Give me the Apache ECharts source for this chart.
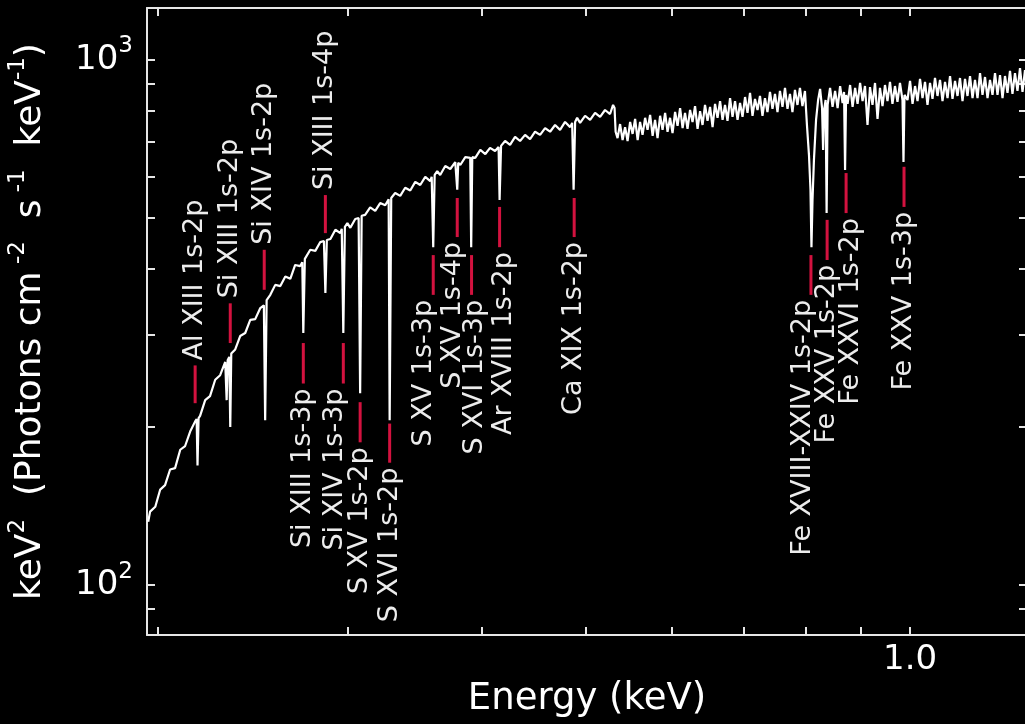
<!DOCTYPE html>
<html>
<head>
<meta charset="utf-8">
<title>Absorption spectrum</title>
<script src="https://cdn.jsdelivr.net/npm/echarts@6/dist/echarts.min.js"></script>
<style>
html, body { margin: 0; padding: 0; background: #000; }
#main { width: 1025px; height: 724px; }
</style>
</head>
<body>
<div id="main"></div>
<script>
// spectrum (energy in axis units, flux in keV2 photons ...)
var energy = [
  0.1958, 0.1966, 0.1988, 0.2009, 0.2030, 0.2052, 0.2074, 0.2097, 0.2119, 0.2142,
  0.2165, 0.2172, 0.2176, 0.2181, 0.2188, 0.2212, 0.2235, 0.2260, 0.2284, 0.2309,
  0.2316, 0.2321, 0.2329, 0.2334, 0.2339, 0.2359, 0.2384, 0.2410, 0.2436, 0.2462,
  0.2489, 0.2508, 0.2515, 0.2523, 0.2543, 0.2570, 0.2598, 0.2626, 0.2654, 0.2682,
  0.2711, 0.2723, 0.2729, 0.2738, 0.2747, 0.2770, 0.2800, 0.2830, 0.2852, 0.2861,
  0.2870, 0.2892, 0.2923, 0.2954, 0.2963, 0.2973, 0.2983, 0.2999, 0.3018, 0.3050,
  0.3072, 0.3082, 0.3092, 0.3115, 0.3149, 0.3183, 0.3217, 0.3252, 0.3276, 0.3283,
  0.3294, 0.3322, 0.3358, 0.3394, 0.3431, 0.3468, 0.3505, 0.3543, 0.3581, 0.3592,
  0.3604, 0.3615, 0.3635, 0.3658, 0.3698, 0.3738, 0.3778, 0.3786, 0.3794, 0.3802,
  0.3819, 0.3860, 0.3901, 0.3909, 0.3918, 0.3943, 0.3986, 0.4029, 0.4070, 0.4114,
  0.4145, 0.4154, 0.4167, 0.4203, 0.4248, 0.4294, 0.4340, 0.4387, 0.4434, 0.4482,
  0.4530, 0.4579, 0.4628, 0.4678, 0.4728, 0.4779, 0.4831, 0.4852, 0.4867, 0.4883,
  0.4904, 0.4935, 0.4988, 0.5042, 0.5096, 0.5151, 0.5206, 0.5262, 0.5296, 0.5313,
  0.5325, 0.5347, 0.5376, 0.5405, 0.5434, 0.5463, 0.5493, 0.5522, 0.5552, 0.5582,
  0.5611, 0.5641, 0.5672, 0.5702, 0.5733, 0.5764, 0.5794, 0.5825, 0.5857, 0.5888,
  0.5920, 0.5951, 0.5983, 0.6015, 0.6048, 0.6080, 0.6113, 0.6146, 0.6178, 0.6211,
  0.6245, 0.6278, 0.6312, 0.6346, 0.6380, 0.6414, 0.6448, 0.6483, 0.6518, 0.6553,
  0.6588, 0.6623, 0.6659, 0.6695, 0.6730, 0.6766, 0.6803, 0.6839, 0.6876, 0.6913,
  0.6950, 0.6987, 0.7025, 0.7062, 0.7100, 0.7138, 0.7176, 0.7215, 0.7253, 0.7292,
  0.7331, 0.7370, 0.7410, 0.7450, 0.7490, 0.7530, 0.7570, 0.7611, 0.7652, 0.7693,
  0.7734, 0.7775, 0.7817, 0.7859, 0.7901, 0.7943, 0.7986, 0.8020, 0.8055, 0.8081,
  0.8098, 0.8116, 0.8141, 0.8178, 0.8214, 0.8249, 0.8284, 0.8302, 0.8320, 0.8347,
  0.8365, 0.8383, 0.8427, 0.8472, 0.8518, 0.8564, 0.8610, 0.8656, 0.8683, 0.8702,
  0.8721, 0.8749, 0.8796, 0.8843, 0.8891, 0.8938, 0.8986, 0.9034, 0.9081, 0.9130,
  0.9179, 0.9228, 0.9278, 0.9328, 0.9377, 0.9428, 0.9478, 0.9529, 0.9580, 0.9631,
  0.9683, 0.9735, 0.9787, 0.9840, 0.9861, 0.9882, 0.9946, 1.0000, 1.0054, 1.0108,
  1.0162, 1.0216, 1.0271, 1.0326, 1.0381, 1.0437, 1.0493, 1.0549, 1.0606, 1.0663,
  1.0720, 1.0778, 1.0836, 1.0894, 1.0952, 1.1011, 1.1070, 1.1129, 1.1189, 1.1249,
  1.1309, 1.1370, 1.1431, 1.1492, 1.1554, 1.1616, 1.1678, 1.1741, 1.1804, 1.1867,
  1.1931, 1.1995, 1.2059, 1.2124, 1.2189, 1.2254, 1.2320, 1.2386, 1.2452, 1.2519,
  1.2586, 1.2654, 1.2722, 1.2790
];
var flux = [
  132, 138, 141, 152, 155, 166, 167, 181, 184, 196,
  205, 207, 169, 208, 210, 225, 229, 246, 251, 266,
  225, 268, 272, 200, 276, 281, 298, 302, 320, 321,
  337, 341, 206, 349, 357, 373, 371, 387, 383, 407,
  405, 412, 302, 418, 418, 435, 433, 450, 452, 360,
  454, 456, 475, 468, 477, 302, 481, 489, 479, 498,
  500, 232, 505, 507, 524, 516, 534, 529, 543, 206,
  546, 558, 551, 571, 564, 586, 578, 599, 588, 599,
  440, 604, 614, 604, 628, 620, 639, 634, 566, 637,
  631, 653, 651, 440, 653, 651, 674, 662, 680, 671,
  683, 541, 686, 701, 689, 714, 701, 720, 707, 730,
  720, 742, 730, 752, 736, 762, 745, 759, 566, 762,
  776, 759, 783, 769, 793, 779, 803, 789, 821, 810,
  730, 710, 755, 704, 745, 701, 762, 723, 772, 704,
  762, 720, 776, 736, 786, 717, 769, 710, 783, 736,
  793, 730, 776, 726, 796, 749, 810, 742, 793, 739,
  803, 762, 817, 739, 799, 752, 821, 766, 814, 745,
  825, 776, 835, 769, 821, 766, 846, 779, 835, 769,
  828, 779, 850, 793, 866, 783, 843, 803, 854, 783,
  846, 796, 869, 807, 862, 796, 873, 814, 885, 807,
  862, 796, 877, 821, 885, 817, 873, 752, 659, 566,
  440, 541, 645, 769, 839, 881, 810, 674, 803, 839,
  511, 821, 885, 814, 873, 810, 892, 828, 869, 617,
  858, 825, 896, 814, 885, 825, 904, 835, 892, 752,
  888, 821, 904, 772, 885, 817, 896, 835, 908, 825,
  892, 832, 904, 839, 639, 858, 839, 912, 825, 892,
  835, 920, 846, 908, 821, 904, 843, 924, 854, 916,
  835, 908, 846, 932, 843, 912, 854, 924, 835, 920,
  854, 932, 846, 916, 846, 944, 858, 928, 846, 916,
  858, 944, 858, 936, 846, 932, 866, 953, 862, 944,
  873, 965, 869, 957
];

// identified lines: name, energy, red marker top / bottom (flux units)
var lineNames = ['Al XIII 1s-2p', 'Si XIII 1s-2p', 'Si XIV 1s-2p', 'Si XIII 1s-4p',
  'Si XIII 1s-3p', 'Si XIV 1s-3p', 'S XV 1s-2p', 'S XVI 1s-2p', 'S XV 1s-3p',
  'S XV 1s-4p', 'S XVI 1s-3p', 'Ar XVIII 1s-2p', 'Ca XIX 1s-2p',
  'Fe XVIII-XXIV 1s-2p', 'Fe XXV 1s-2p', 'Fe XXVI 1s-2p', 'Fe XXV 1s-3p'];
var lineEnergy = [0.2165, 0.2334, 0.2510, 0.2861, 0.2729, 0.2973, 0.3082, 0.3283, 0.3604,
  0.3794, 0.3912, 0.4154, 0.4873, 0.8089, 0.8374, 0.8721, 0.9872];
var markTop = [262, 344, 435, 553, 289, 289, 223, 203, 425, 546, 425, 525, 546, 425, 496, 609, 626];
var markBottom = [222, 289, 365, 468, 242, 242, 187, 171, 357, 460, 357, 440, 460, 357, 416, 511, 525];
var labelAbove = [true, true, true, true, false, false, false, false, false,
  false, false, false, false, false, false, false, false];

// axis ticks
var xTicks = [0.2, 0.3, 0.4, 0.5, 0.6, 0.7, 0.8, 0.9, 1.0];
var xLabels = [1.0];
var yTicks = [90, 100, 200, 300, 400, 500, 600, 700, 800, 900, 1000];
var yLabels = [100, 1000];

// label nudges (px) so the crowded names do not overlap
var labelDx = [0, 0, 0, 0, 0, -8, 0, 0, -9, -4, 3, 4, 0, -8, 0, 5, 0];

var FONT = 'DejaVu Sans';
var AXIS_COLOR = '#e6e6e6';

var spectrum = [];
for (var i = 0; i < energy.length; i++) {
  spectrum.push([energy[i], flux[i]]);
}
var marks = [];
for (var j = 0; j < lineNames.length; j++) {
  marks.push([lineEnergy[j], markTop[j], markBottom[j]]);
}

var xRange = { min: 0.1953, max: 1.2845 };
var yRange = { min: 80.33, max: 1256 };

function baseAxis(extra) {
  var ax = {
    type: 'log',
    logBase: 10,
    min: extra.min,
    max: extra.max,
    axisLine: { show: true, onZero: false, lineStyle: { color: AXIS_COLOR, width: 2 } },
    axisTick: { show: true, inside: true, length: 8, customValues: extra.ticks,
      lineStyle: { color: AXIS_COLOR, width: 2 } },
    axisLabel: { show: false },
    splitLine: { show: false },
    minorTick: { show: false },
    minorSplitLine: { show: false }
  };
  return ax;
}

var xBottom = baseAxis({ min: xRange.min, max: xRange.max, ticks: xTicks });
xBottom.position = 'bottom';
xBottom.axisLabel = {
  show: true,
  customValues: xLabels,
  formatter: function (v) { return v.toFixed(1); },
  color: '#fff', fontFamily: FONT, fontSize: 34, lineHeight: 34, margin: 8
};
xBottom.name = 'Energy (keV)';
xBottom.nameLocation = 'middle';
xBottom.nameGap = 46;
xBottom.nameMoveOverlap = false;
xBottom.nameTextStyle = { color: '#fff', fontFamily: FONT, fontSize: 37, lineHeight: 37 };

var xTop = baseAxis({ min: xRange.min, max: xRange.max, ticks: xTicks });
xTop.position = 'top';

var yLeft = baseAxis({ min: yRange.min, max: yRange.max, ticks: yTicks });
yLeft.position = 'left';
yLeft.axisLabel = {
  show: true,
  customValues: yLabels,
  formatter: function (v) {
    return '{b|10}{s|' + Math.round(Math.log10(v)) + '}';
  },
  margin: 14,
  rich: {
    b: { color: '#fff', fontFamily: FONT, fontSize: 34, lineHeight: 50 },
    s: { color: '#fff', fontFamily: FONT, fontSize: 23, lineHeight: 23, verticalAlign: 'top' }
  }
};
yLeft.name = '{b|keV}{s|2}{b|  (Photons cm}{s| -2}{b|  s}{s| -1}{b|  keV}{s|-1}{b|)}';
yLeft.nameLocation = 'middle';
yLeft.nameRotate = 90;
yLeft.nameGap = 92;
yLeft.nameMoveOverlap = false;
yLeft.nameTextStyle = {
  rich: {
    b: { color: '#fff', fontFamily: FONT, fontSize: 36, lineHeight: 48 },
    s: { color: '#fff', fontFamily: FONT, fontSize: 23, lineHeight: 23, verticalAlign: 'top' }
  }
};

var yRight = baseAxis({ min: yRange.min, max: yRange.max, ticks: yTicks });
yRight.position = 'right';

var myChart = echarts.init(document.getElementById('main'), null, { renderer: 'canvas' });

var option = {
  backgroundColor: '#000',
  animation: false,
  grid: { left: 147, right: -2, top: 8, bottom: 89, containLabel: false, outerBoundsMode: 'none' },
  xAxis: [xBottom, xTop],
  yAxis: [yLeft, yRight],
  series: [
    {
      type: 'line',
      xAxisIndex: 0,
      yAxisIndex: 0,
      data: spectrum,
      showSymbol: false,
      symbol: 'none',
      clip: true,
      lineStyle: { color: '#ffffff', width: 2.2 },
      z: 3
    },
    {
      // red markers and rotated line names
      type: 'custom',
      xAxisIndex: 0,
      yAxisIndex: 0,
      data: marks,
      clip: false,
      z: 4,
      renderItem: function (params, api) {
        var k = params.dataIndex;
        var top = api.coord([api.value(0), api.value(1)]);
        var bot = api.coord([api.value(0), api.value(2)]);
        var above = labelAbove[k];
        return {
          type: 'group',
          children: [
            {
              type: 'line',
              shape: { x1: top[0], y1: top[1], x2: bot[0], y2: bot[1] },
              style: { stroke: '#d3123f', lineWidth: 3 }
            },
            {
              type: 'text',
              x: top[0] + labelDx[k],
              y: above ? top[1] - 5 : bot[1] + 5,
              rotation: Math.PI / 2,
              style: {
                text: lineNames[k],
                fill: '#ececec',
                fontFamily: FONT,
                fontSize: 27,
                align: above ? 'left' : 'right',
                verticalAlign: 'middle'
              }
            }
          ]
        };
      }
    }
  ]
};

myChart.setOption(option);
</script>
</body>
</html>
